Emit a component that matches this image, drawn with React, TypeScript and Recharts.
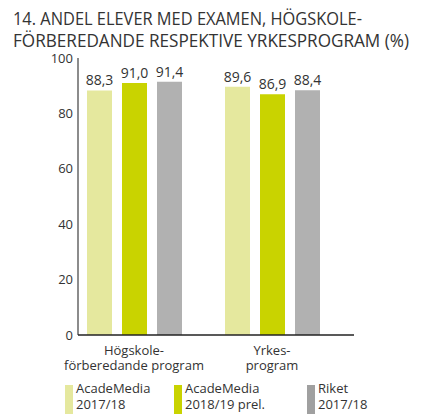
import React from 'react';
import { BarChart, Bar, XAxis, YAxis, LabelList } from 'recharts';

const categories = ['Högskole-\nförberedande program', 'Yrkes-\nprogram'];
const acadeMedia1718 = [88.3, 89.6];
const acadeMedia1819 = [91.0, 86.9];
const riket1718 = [91.4, 88.4];
const yTicks = [0, 20, 40, 60, 80, 100];
const seriesNames = ['AcadeMedia\n2017/18', 'AcadeMedia\n2018/19 prel.', 'Riket\n2017/18'];
const seriesColors = ['#E5E89E', '#C9D300', '#B1B1B1'];
const legendColors = ['#E5E89E', '#C9D300', '#A0A0A0'];
const legendLeft = [65, 174, 307];
const titleLines = ['14. ANDEL ELEVER MED EXAMEN, HÖGSKOLE-', 'FÖRBEREDANDE RESPEKTIVE YRKESPROGRAM (%)'];
const titleWidths = [349, 396];

const data = categories.map((name, i) => ({
  name,
  s0: acadeMedia1718[i],
  s1: acadeMedia1819[i],
  s2: riket1718[i],
}));

const FONT = '"Open Sans", sans-serif';
const TEXT = '#333333';

const fmt = (v: any) => Number(v).toFixed(1).replace('.', ',');

const XTick = (props: any) => {
  const { x, y, payload } = props;
  const lines = String(payload.value).split('\n');
  return (
    <text x={x} y={y} textAnchor="middle" fill={TEXT} fontSize={13} fontFamily={FONT}>
      {lines.map((l, i) => (
        <tspan key={i} x={x} dy={i === 0 ? 20 : 15}>{l}</tspan>
      ))}
    </text>
  );
};

export default function App() {
  return (
    <div style={{ position: 'absolute', left: 0, top: 0, width: 424, height: 414, background: '#fff', fontFamily: FONT }}>
      <svg width={424} height={60} style={{ position: 'absolute', left: 0, top: 0 }}>
        {titleLines.map((t, i) => (
          <text
            key={i}
            x={13}
            y={25 + i * 22}
            fontSize={17.5}
            fontFamily={FONT}
            fill={TEXT}
            textLength={titleWidths[i]}
            lengthAdjust="spacingAndGlyphs"
          >
            {t}
          </text>
        ))}
      </svg>
      <div style={{ position: 'absolute', left: 0, top: 0 }}>
        <BarChart
          width={424}
          height={414}
          data={data}
          margin={{ top: 58, right: 70, bottom: 0, left: 0 }}
          barSize={25}
          barGap={10}
        >
          <YAxis
            width={78}
            domain={[0, 100]}
            ticks={yTicks}
            tickLine={false}
            tickSize={3}
            tickMargin={2}
            axisLine={{ stroke: '#666666', strokeWidth: 1.5 }}
            tick={{ fill: TEXT, fontSize: 13, fontFamily: FONT }}
          />
          <XAxis
            dataKey="name"
            height={79}
            padding={{ left: -13, right: 13 }}
            tickLine={false}
            tickSize={0}
            tickMargin={0}
            axisLine={{ stroke: '#222222', strokeWidth: 1.5 }}
            tick={<XTick />}
            interval={0}
          />
          {['s0', 's1', 's2'].map((k, i) => (
            <Bar key={k} dataKey={k} name={seriesNames[i]} fill={seriesColors[i]} isAnimationActive={false}>
              <LabelList dataKey={k} position="top" offset={5} formatter={fmt} fill={TEXT} fontSize={14} fontFamily={FONT} />
            </Bar>
          ))}
        </BarChart>
      </div>
      {seriesNames.map((n, i) => (
        <div key={i} style={{ position: 'absolute', left: legendLeft[i], top: 384 }}>
          <div style={{ position: 'absolute', left: 0, top: 1, width: 8, height: 29, background: legendColors[i] }} />
          <div style={{ position: 'absolute', left: 11, top: -4, fontSize: 13, lineHeight: '16px', color: TEXT, whiteSpace: 'nowrap' }}>
            {n.split('\n').map((l, j) => <div key={j}>{l}</div>)}
          </div>
        </div>
      ))}
    </div>
  );
}
